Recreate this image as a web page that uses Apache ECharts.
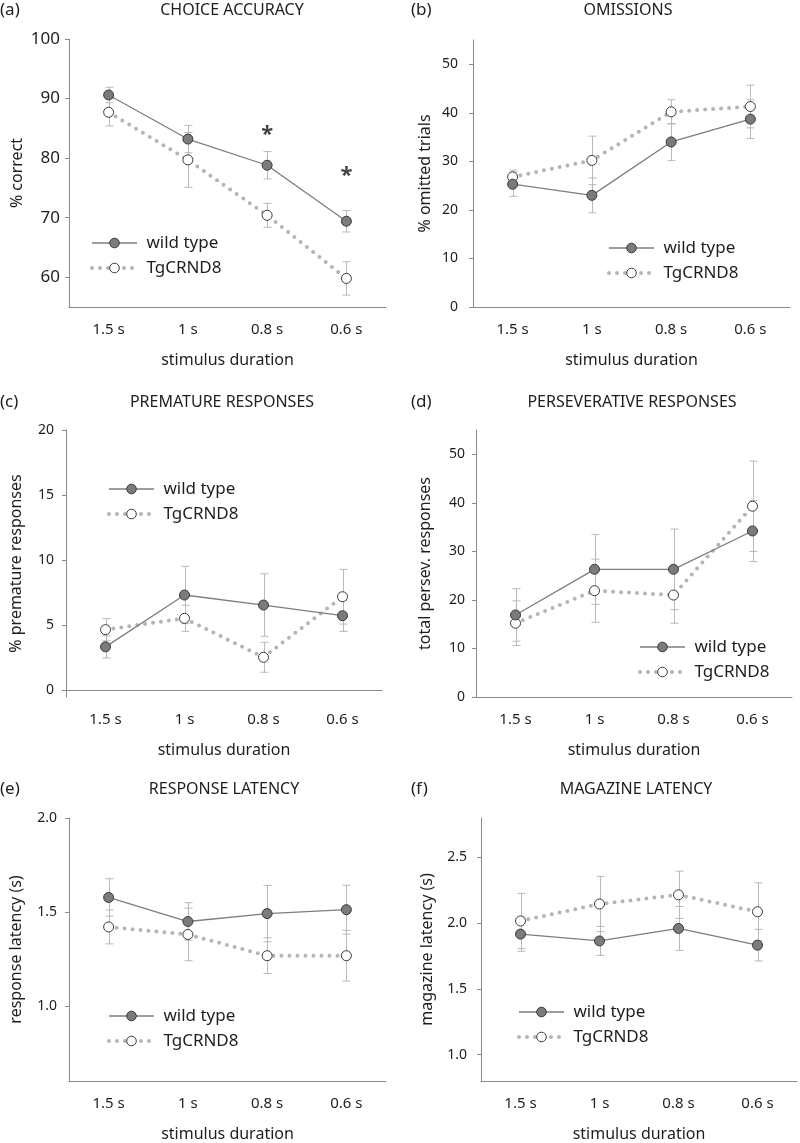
<!DOCTYPE html>
<html>
<head>
<meta charset="utf-8">
<script src="https://cdn.jsdelivr.net/npm/echarts@6/dist/echarts.min.js"></script>
<style>
    html, body { margin: 0; padding: 0; background: #fff; }
    #main { width: 800px; height: 1143px; }
</style>
</head>
<body>
<div id="main"></div>
<script>
    var categories = ['1.5 s', '1 s', '0.8 s', '0.6 s'];

    /**************** (a) choice accuracy ****************/
    var accWild = [90.6, 83.2, 78.8, 69.4];
    var accWildErr = [1.3, 2.3, 2.3, 1.8];
    var accTg = [87.7, 79.7, 70.4, 59.8];
    var accTgErr = [2.3, 4.6, 2.0, 2.8];
    var accSig = [null, null, 83.9, 77.0];
    var accTicks = [60, 70, 80, 90, 100];

    /**************** (b) omissions ****************/
    var omWild = [25.3, 23.0, 34.0, 38.7];
    var omWildErr = [2.5, 3.6, 3.8, 4.0];
    var omTg = [26.8, 30.2, 40.2, 41.3];
    var omTgErr = [1.4, 5.0, 2.5, 4.4];
    var omTicks = [0, 10, 20, 30, 40, 50];

    /**************** (c) premature responses ****************/
    var premWild = [3.35, 7.33, 6.56, 5.74];
    var premWildErr = [0.85, 2.2, 2.4, 1.2];
    var premTg = [4.67, 5.54, 2.55, 7.2];
    var premTgErr = [0.85, 1.0, 1.15, 2.1];
    var premTicks = [0, 5, 10, 15, 20];

    /**************** (d) perseverative responses ****************/
    var persWild = [16.9, 26.3, 26.3, 34.2];
    var persWildErr = [5.4, 7.2, 8.3, 6.3];
    var persTg = [15.2, 21.9, 21.0, 39.3];
    var persTgErr = [4.6, 6.5, 5.8, 9.3];
    var persTicks = [0, 10, 20, 30, 40, 50];

    /**************** (e) response latency ****************/
    var respWild = [1.577, 1.449, 1.491, 1.512];
    var respWildErr = [0.10, 0.10, 0.15, 0.13];
    var respTg = [1.42, 1.38, 1.267, 1.267];
    var respTgErr = [0.09, 0.14, 0.095, 0.135];
    var respTicks = [1.0, 1.5, 2.0];

    /**************** (f) magazine latency ****************/
    var magWild = [1.917, 1.865, 1.96, 1.833];
    var magWildErr = [0.13, 0.11, 0.167, 0.12];
    var magTg = [2.017, 2.146, 2.216, 2.087];
    var magTgErr = [0.21, 0.21, 0.18, 0.22];
    var magTicks = [1.0, 1.5, 2.0, 2.5];

    var FONT = '"Noto Sans", sans-serif';
    var TEXT = '#1e1e1e';
    var AXIS = '#8a8a8a';
    var ERR = '#b9b9b9';

    var panels = [
        {letter: '(a)', title: 'CHOICE ACCURACY', yName: '% correct',
            wild: accWild, wildErr: accWildErr, tg: accTg, tgErr: accTgErr, sig: accSig,
            ticks: accTicks, min: 55, max: 100, dec: 0,
            grid: [69, 39, 317, 268], labelSize: 17, labelMargin: 9, nameGap: 44,
            titleXY: [232, 10], letterXY: [0, 10], legend: [90, 234]},
        {letter: '(b)', title: 'OMISSIONS', yName: '% omitted trials',
            wild: omWild, wildErr: omWildErr, tg: omTg, tgErr: omTgErr,
            ticks: omTicks, min: 0, max: 55, dec: 0,
            grid: [473, 40, 317, 267], labelSize: 14, labelMargin: 15, nameGap: 40,
            titleXY: [628, 10], letterXY: [411, 10], legend: [607, 239]},
        {letter: '(c)', title: 'PREMATURE RESPONSES', yName: '% premature responses',
            wild: premWild, wildErr: premWildErr, tg: premTg, tgErr: premTgErr,
            ticks: premTicks, min: -0.5, max: 20, dec: 0,
            grid: [66, 430, 316, 267], labelSize: 14, labelMargin: 12, nameGap: 42,
            titleXY: [222, 402], letterXY: [0, 402], legend: [107, 480]},
        {letter: '(d)', title: 'PERSEVERATIVE RESPONSES', yName: 'total persev. responses',
            wild: persWild, wildErr: persWildErr, tg: persTg, tgErr: persTgErr,
            ticks: persTicks, min: 0, max: 55, dec: 0,
            grid: [476, 430, 316, 267], labelSize: 14, labelMargin: 11, nameGap: 43,
            titleXY: [632, 402], letterXY: [411, 402], legend: [638, 638]},
        {letter: '(e)', title: 'RESPONSE LATENCY', yName: 'response latency (s)',
            wild: respWild, wildErr: respWildErr, tg: respTg, tgErr: respTgErr,
            ticks: respTicks, min: 0.6, max: 2.0, dec: 1,
            grid: [69, 818, 317, 267], labelSize: 14, labelMargin: 12, nameGap: 45,
            titleXY: [224, 789], letterXY: [0, 789], legend: [107, 1007]},
        {letter: '(f)', title: 'MAGAZINE LATENCY', yName: 'magazine latency (s)',
            wild: magWild, wildErr: magWildErr, tg: magTg, tgErr: magTgErr,
            ticks: magTicks, min: 0.8, max: 2.8, dec: 1,
            grid: [481, 818, 316, 267], labelSize: 14, labelMargin: 14, nameGap: 46,
            titleXY: [636, 789], letterXY: [411, 789], legend: [517, 1003]}
    ];

    var wildLine = {color: '#7d7d7d', width: 1.3};
    var wildItem = {color: '#7b7b7b', borderColor: '#3a3a3a', borderWidth: 1};
    var tgLine = {color: '#b5b5b5', width: 4, type: [0, 8], cap: 'round'};
    var tgItem = {color: '#ffffff', borderColor: '#3a3a3a', borderWidth: 1};

    function errData(vals, errs) {
        return vals.map(function (v, i) {
            return [i, v - errs[i], v + errs[i]];
        });
    }

    function renderErr(params, api) {
        var hi = api.coord([api.value(0), api.value(2)]);
        var lo = api.coord([api.value(0), api.value(1)]);
        var x = Math.round(hi[0]) + 0.5;
        var w = 4;
        var st = {stroke: ERR, lineWidth: 1};
        return {
            type: 'group',
            children: [
                {type: 'line', shape: {x1: x, y1: hi[1], x2: x, y2: lo[1]}, style: st},
                {type: 'line', shape: {x1: x - w, y1: hi[1], x2: x + w, y2: hi[1]}, style: st},
                {type: 'line', shape: {x1: x - w, y1: lo[1], x2: x + w, y2: lo[1]}, style: st}
            ]
        };
    }

    var grids = [], xAxes = [], yAxes = [], series = [], legends = [], texts = [];

    panels.forEach(function (p, k) {
        grids.push({left: p.grid[0], top: p.grid[1], width: p.grid[2], height: p.grid[3], containLabel: false});
        xAxes.push({
            type: 'category', gridIndex: k, data: categories, boundaryGap: true,
            name: 'stimulus duration', nameLocation: 'middle', nameGap: 45,
            nameTextStyle: {fontFamily: FONT, fontSize: 16, color: TEXT},
            axisLine: {lineStyle: {color: AXIS, width: 1}},
            axisTick: {alignWithLabel: true, length: 5, lineStyle: {color: AXIS}},
            axisLabel: {fontFamily: FONT, fontSize: 15, color: TEXT, margin: 15},
            splitLine: {show: false}
        });
        yAxes.push({
            type: 'value', gridIndex: k, min: p.min, max: p.max,
            name: p.yName, nameLocation: 'middle', nameGap: p.nameGap, nameRotate: 90,
            nameTextStyle: {fontFamily: FONT, fontSize: 16, color: TEXT},
            axisLine: {show: true, lineStyle: {color: AXIS, width: 1}},
            axisTick: {show: true, length: 4, customValues: p.ticks, lineStyle: {color: AXIS}},
            axisLabel: {
                fontFamily: FONT, fontSize: p.labelSize, color: TEXT, margin: p.labelMargin,
                customValues: p.ticks,
                formatter: (function (d) { return function (v) { return v.toFixed(d); }; })(p.dec)
            },
            splitLine: {show: false}
        });

        series.push({
            type: 'custom', xAxisIndex: k, yAxisIndex: k, z: 1, silent: true,
            renderItem: renderErr, data: errData(p.tg, p.tgErr)
        });
        series.push({
            type: 'custom', xAxisIndex: k, yAxisIndex: k, z: 1, silent: true,
            renderItem: renderErr, data: errData(p.wild, p.wildErr)
        });
        series.push({
            name: 'TgCRND8', type: 'line', xAxisIndex: k, yAxisIndex: k, z: 2,
            data: p.tg, symbol: 'circle', symbolSize: 10,
            lineStyle: tgLine, itemStyle: tgItem
        });
        series.push({
            name: 'wild type', type: 'line', xAxisIndex: k, yAxisIndex: k, z: 3,
            data: p.wild, symbol: 'circle', symbolSize: 10,
            lineStyle: wildLine, itemStyle: wildItem
        });
        if (p.sig) {
            series.push({
                type: 'scatter', xAxisIndex: k, yAxisIndex: k, z: 4, silent: true,
                data: p.sig, symbolSize: 2, itemStyle: {color: 'rgba(0,0,0,0)'},
                label: {
                    show: true, position: 'inside', formatter: '*',
                    fontFamily: FONT, fontSize: 22, fontWeight: 'bold', color: '#111111'
                }
            });
        }

        legends.push({
            left: p.legend[0], top: p.legend[1], orient: 'vertical', padding: 0,
            itemWidth: 45, itemHeight: 12, itemGap: 7, selectedMode: false,
            textStyle: {fontFamily: FONT, fontSize: 17, color: TEXT, lineHeight: 18},
            formatter: function (n) { return ' ' + n; },
            data: [
                {name: 'wild type', lineStyle: wildLine, itemStyle: wildItem},
                {name: 'TgCRND8', lineStyle: tgLine, itemStyle: tgItem}
            ]
        });

        texts.push({
            type: 'text', x: p.titleXY[0], y: p.titleXY[1],
            style: {text: p.title, fontFamily: FONT, fontSize: 16, fill: TEXT,
                textAlign: 'center', textVerticalAlign: 'middle'}
        });
        texts.push({
            type: 'text', x: p.letterXY[0], y: p.letterXY[1],
            style: {text: p.letter, fontFamily: FONT, fontSize: 17, fill: TEXT,
                textAlign: 'left', textVerticalAlign: 'middle'}
        });
    });

    var chart = echarts.init(document.getElementById('main'), null, {renderer: 'canvas'});
    chart.setOption({
        backgroundColor: '#ffffff',
        animation: false,
        grid: grids,
        xAxis: xAxes,
        yAxis: yAxes,
        legend: legends,
        graphic: texts,
        series: series
    });
</script>
</body>
</html>
